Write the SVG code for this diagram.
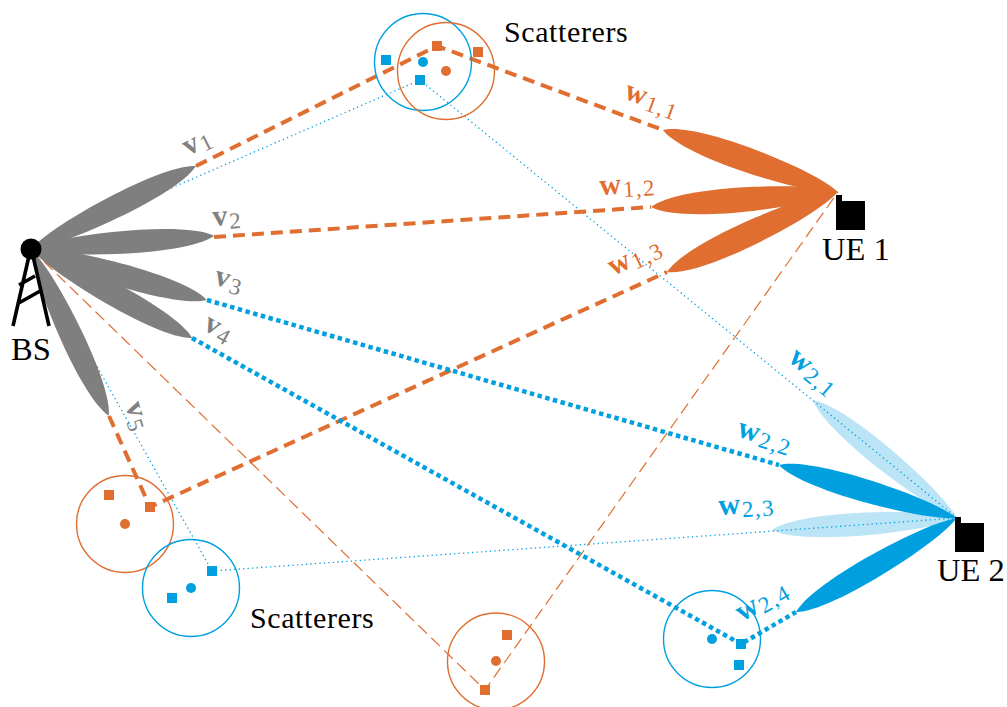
<svg xmlns="http://www.w3.org/2000/svg" xmlns:xlink="http://www.w3.org/1999/xlink" width="1007" height="707" viewBox="0 0 1007 707">
<style>
text{font-family:"Liberation Serif","DejaVu Serif",serif;fill:#000}
.big{font-size:32.5px}
.sc{font-size:30px;letter-spacing:.6px}
.g{fill:#7f7f7f}.o{fill:#df6e30}.b{fill:#00a0e0}.lb{fill:#bbe5f6}
.l{font-size:30px;font-weight:bold;letter-spacing:1.5px}
.l tspan{font-size:23px;font-weight:normal}
.ring{fill:none;stroke-width:1.4}
.ro{stroke:#df6e30}.rb{stroke:#00a0e0}
.thick{fill:none;stroke:#df6e30;stroke-width:4;stroke-dasharray:12 7}
.dots{fill:none;stroke:#00a0e0;stroke-width:4.5;stroke-dasharray:4.5 3.5}
.thind{fill:none;stroke:#df6e30;stroke-width:1.2;stroke-dasharray:12 6}
.thinb{fill:none;stroke:#00a0e0;stroke-width:1.3;stroke-dasharray:1.3 3.2}
</style>
<defs>
<path id="lobe" d="M0 0C10 -.55 25 -.8 45 -.92C70 -1.05 92 -.75 100 0C92 .75 70 1.05 45 .92C25 .8 10 .55 0 0Z"/>
<rect id="sq" x="-5" y="-5" width="10" height="10"/>
</defs>
<g id="lobes-light" class="lb">
<use xlink:href="#lobe" transform="translate(957 518) rotate(219.3) scale(1.86 12)"/>
<use xlink:href="#lobe" transform="translate(957 518) rotate(176.3) scale(1.854 12)"/>
</g>
<g id="connectors">
<path class="thinb" d="M31 249L420 80L957 518"/>
<path class="thinb" d="M31 249L212 571L957 518"/>
<path class="thind" d="M31 249L485 690L838 192"/>
<path class="thick" d="M196 166L437 46L663 130"/>
<path class="thick" d="M214 237L651 207"/>
<path class="thick" d="M109 416L150 507L667 272"/>
<path class="dots" d="M207 300L779 465"/>
<path class="dots" d="M192 338L741 644L796 612"/>
</g>
<g id="lobes-bs" class="g">
<use xlink:href="#lobe" transform="translate(31 249) rotate(-26.7) scale(1.847 12)"/>
<use xlink:href="#lobe" transform="translate(31 249) rotate(-4.1) scale(1.835 12)"/>
<use xlink:href="#lobe" transform="translate(31 249) rotate(16.2) scale(1.83 12)"/>
<use xlink:href="#lobe" transform="translate(31 249) rotate(28.9) scale(1.84 12)"/>
<use xlink:href="#lobe" transform="translate(31 249) rotate(65) scale(1.84 12)"/>
</g>
<g id="lobes-ue1" class="o">
<use xlink:href="#lobe" transform="translate(838 192) rotate(199.5) scale(1.857 13)"/>
<use xlink:href="#lobe" transform="translate(838 192) rotate(175.4) scale(1.876 13)"/>
<use xlink:href="#lobe" transform="translate(838 192) rotate(154.9) scale(1.888 13)"/>
</g>
<g id="lobes-ue2" class="b">
<use xlink:href="#lobe" transform="translate(957 518) rotate(196.6) scale(1.857 12)"/>
<use xlink:href="#lobe" transform="translate(957 518) rotate(149.7) scale(1.864 12)"/>
</g>
<g id="bs">
<path d="M29 256L13 326M33 256L49 326M19 285L35 276M17 304L42 290" fill="none" stroke="#000" stroke-width="3.6"/>
<circle cx="31" cy="249" r="10.5"/>
<text class="big" x="11" y="360">BS</text>
</g>
<g id="ue1"><path d="M836 195H842V201H865V230H836Z"/><text class="big" x="822" y="260">UE 1</text></g>
<g id="ue2"><path d="M955 517H961V523H984V552H955Z"/><text class="big" x="937" y="581">UE 2</text></g>
<g id="scatter-top">
<circle class="ring rb" cx="423" cy="62" r="48.5"/>
<circle class="ring ro" cx="446" cy="71" r="48.5"/>
<circle class="b" cx="423" cy="62" r="5"/><circle class="o" cx="446" cy="71" r="5"/>
<use class="o" xlink:href="#sq" x="437" y="46"/><use class="o" xlink:href="#sq" x="478" y="52"/>
<use class="b" xlink:href="#sq" x="386" y="60"/><use class="b" xlink:href="#sq" x="420" y="80"/>
<text class="sc" x="504" y="42">Scatterers</text>
</g>
<g id="scatter-left-orange">
<circle class="ring ro" cx="125" cy="524" r="48.5"/>
<circle class="o" cx="125" cy="524" r="5"/>
<use class="o" xlink:href="#sq" x="109" y="495"/><use class="o" xlink:href="#sq" x="150" y="507"/>
</g>
<g id="scatter-left-blue">
<circle class="ring rb" cx="191" cy="588" r="48.5"/>
<circle class="b" cx="191" cy="588" r="5"/>
<use class="b" xlink:href="#sq" x="172" y="598"/><use class="b" xlink:href="#sq" x="212" y="571"/>
<text class="sc" x="250" y="628">Scatterers</text>
</g>
<g id="scatter-bottom-orange">
<circle class="ring ro" cx="496" cy="661.500" r="48.5"/>
<circle class="o" cx="496" cy="661" r="5"/>
<use class="o" xlink:href="#sq" x="507" y="635"/><use class="o" xlink:href="#sq" x="485" y="690"/>
</g>
<g id="scatter-bottom-blue">
<circle class="ring rb" cx="712" cy="639" r="48.5"/>
<circle class="b" cx="712" cy="639" r="5"/>
<use class="b" xlink:href="#sq" x="741" y="644"/><use class="b" xlink:href="#sq" x="739" y="665"/>
</g>
<g id="labels">
<text class="l" style="fill:#808080" transform="translate(188 156) rotate(-27)">v<tspan dy="4">1</tspan></text>
<text class="l" style="fill:#808080" transform="translate(213 226) rotate(-4)">v<tspan dy="4">2</tspan></text>
<text class="l" style="fill:#808080" transform="translate(213 284) rotate(16)">v<tspan dy="4">3</tspan></text>
<text class="l" style="fill:#808080" transform="translate(202 329) rotate(28)">v<tspan dy="4">4</tspan></text>
<text class="l" style="fill:#808080" transform="translate(125 405) rotate(72)">v<tspan dy="4">5</tspan></text>
<text class="l" style="fill:#df6e30" transform="translate(623 98) rotate(20)">w<tspan dy="4">1,1</tspan></text>
<text class="l" style="fill:#df6e30" transform="translate(600 195) rotate(-4)">w<tspan dy="4">1,2</tspan></text>
<text class="l" style="fill:#df6e30" transform="translate(613 276) rotate(-25)">w<tspan dy="4">1,3</tspan></text>
<text class="l" style="fill:#00a0e0" transform="translate(787 360) rotate(40)">w<tspan dy="4">2,1</tspan></text>
<text class="l" style="fill:#00a0e0" transform="translate(736 436) rotate(17)">w<tspan dy="4">2,2</tspan></text>
<text class="l" style="fill:#00a0e0" transform="translate(719 515) rotate(-4)">w<tspan dy="4">2,3</tspan></text>
<text class="l" style="fill:#00a0e0" transform="translate(742 622) rotate(-30)">w<tspan dy="4">2,4</tspan></text>
</g>
</svg>
